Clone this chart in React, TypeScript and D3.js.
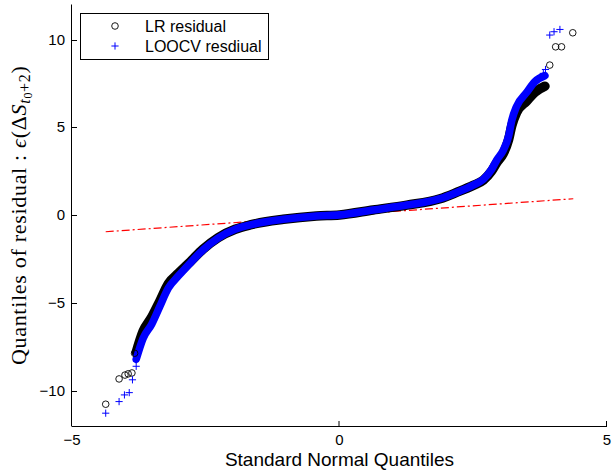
import React from "react";
import * as d3 from "d3";

// standard normal quantiles where the dense band was read
const bandQ = [-3.8, -3.67, -3.51, -3.36, -3.2, -3.01, -2.79, -2.55, -2.27, -1.95, -1.67, -1.05, -0.43, 0.0, 0.63, 1.26, 1.88, 2.19, 2.5, 2.69, 2.84, 2.94, 3.06, 3.16, 3.22, 3.31, 3.5, 3.65, 3.84];
const lrBand = [-7.8, -6.6, -5.8, -4.9, -3.9, -3.3, -2.65, -1.93, -1.28, -0.8, -0.55, -0.23, -0.04, 0.02, 0.3, 0.58, 0.94, 1.3, 1.7, 2.0, 2.5, 3.0, 3.5, 4.3, 5.1, 5.85, 6.5, 7.0, 7.35];
const looBand = [-8.2, -7.0, -6.2, -5.2, -4.15, -3.45, -2.72, -1.97, -1.3, -0.8, -0.55, -0.23, -0.04, 0.02, 0.3, 0.58, 0.94, 1.3, 1.72, 2.05, 2.6, 3.15, 3.7, 4.5, 5.4, 6.2, 7.0, 7.6, 7.95];

// isolated points in the tails
const lrTailQ = [-4.37, -4.12, -4.01, -3.95, -3.88, -3.83, 3.93, 4.04, 4.15, 4.36];
const lrTailY = [-10.76, -9.32, -9.1, -9.03, -8.98, -7.86, 8.55, 9.59, 9.59, 10.39];
const looTailQ = [-4.37, -4.12, -4.02, -3.93, -3.87, -3.8, 3.81, 3.85, 3.93, 4.01, 4.12];
const looTailY = [-11.27, -10.61, -10.23, -10.1, -9.37, -8.6, 8.08, 8.3, 10.26, 10.45, 10.58];

// reference line end points
const refQ = [-4.37, 4.37];
const refY = [-0.94, 0.94];

const xTicks = [-5, 0, 5];
const yTicks = [-10, -5, 0, 5, 10];
const legendLabels = ["LR residual", "LOOCV resdiual"];

const W = 613;
const H = 470;
const sans = "'Liberation Sans', Arial, Helvetica, sans-serif";
const serif = "'Liberation Serif', 'Times New Roman', serif";

export default function App() {
  const x = d3.scaleLinear().domain([-5, 5]).range([72, 607]);
  const y = d3.scaleLinear().domain([-12, 12]).range([426, 4.5]);

  const line = d3
    .line<[number, number]>()
    .x((d) => x(d[0]))
    .y((d) => y(d[1]))
    .curve(d3.curveMonotoneX);

  const lrPath = line(bandQ.map((q, i) => [q, lrBand[i]] as [number, number])) || "";
  const looPath = line(bandQ.map((q, i) => [q, looBand[i]] as [number, number])) || "";
  const refPath = d3
    .line<number>()
    .x((d) => x(d))
    .y((_, i) => y(refY[i]))(refQ) || "";

  const plus = (cx: number, cy: number, s = 3.6) =>
    `M${cx - s},${cy}H${cx + s}M${cx},${cy - s}V${cy + s}`;

  const left = x(-5);
  const bottom = y(-12);

  return (
    <svg
      width={W}
      height={H}
      style={{ position: "absolute", left: 0, top: 0, background: "#fff" }}
    >
      <rect width={W} height={H} fill="#fff" />

      {/* reference line (under the markers) */}
      <path d={refPath} fill="none" stroke="#ff0000" strokeWidth={1.2} strokeDasharray="8,3,2,3" />

      {/* dense band: circles underneath, plus markers on top */}
      <path d={lrPath} fill="none" stroke="#000" strokeWidth={9.5} strokeLinecap="round" strokeLinejoin="round" />
      <path d={looPath} fill="none" stroke="#0000ff" strokeWidth={7.6} strokeLinecap="round" strokeLinejoin="round" />

      {lrTailQ.map((q, i) => (
        <circle key={"c" + i} cx={x(q)} cy={y(lrTailY[i])} r={3.3} fill="none" stroke="#000" strokeWidth={0.9} />
      ))}
      {looTailQ.map((q, i) => (
        <path key={"p" + i} d={plus(x(q), y(looTailY[i]))} stroke="#0000ff" strokeWidth={1} fill="none" />
      ))}

      {/* axes */}
      <line x1={left} x2={x(5)} y1={bottom + 0.5} y2={bottom + 0.5} stroke="#000" />
      <line x1={left - 0.5} x2={left - 0.5} y1={y(12)} y2={bottom + 0.5} stroke="#000" />
      {xTicks.map((t) => (
        <g key={"x" + t}>
          <line x1={x(t) - 0.5} x2={x(t) - 0.5} y1={bottom} y2={bottom - 5} stroke="#000" />
          <text x={x(t)} y={bottom + 19} textAnchor="middle" fontFamily={sans} fontSize={15}>
            {t < 0 ? "\u2212" + Math.abs(t) : t}
          </text>
        </g>
      ))}
      {yTicks.map((t) => (
        <g key={"y" + t}>
          <line x1={left} x2={left + 5} y1={Math.round(y(t)) + 0.5} y2={Math.round(y(t)) + 0.5} stroke="#000" />
          <text x={left - 7} y={y(t) + 5} textAnchor="end" fontFamily={sans} fontSize={15}>
            {t < 0 ? "\u2212" + Math.abs(t) : t}
          </text>
        </g>
      ))}

      {/* axis labels */}
      <text x={x(0)} y={466} textAnchor="middle" fontFamily={sans} fontSize={19}>
        Standard Normal Quantiles
      </text>
      <text
        transform={`translate(26,${(y(12) + bottom) / 2}) rotate(-90)`}
        textAnchor="middle"
        fontFamily={serif}
        fontSize={22}
        letterSpacing={0.7}
      >
        Quantiles of residual :{" "}
        <tspan fontStyle="italic">ϵ</tspan>
        <tspan>(Δ</tspan>
        <tspan fontStyle="italic">S</tspan>
        <tspan fontStyle="italic" fontSize={16} dy={4}>t</tspan>
        <tspan fontSize={12} dy={2}>0</tspan>
        <tspan fontSize={16} dy={-2}>+2</tspan>
        <tspan dy={-4}>)</tspan>
      </text>

      {/* legend */}
      <rect x={80.5} y={13.5} width={188} height={46} fill="#fff" stroke="#000" />
      <circle cx={115} cy={26} r={3.3} fill="none" stroke="#000" strokeWidth={0.9} />
      <path d={plus(115, 46)} stroke="#0000ff" strokeWidth={1} fill="none" />
      <text x={145} y={32} fontFamily={sans} fontSize={16}>{legendLabels[0]}</text>
      <text x={145} y={52} fontFamily={sans} fontSize={16}>{legendLabels[1]}</text>
    </svg>
  );
}
